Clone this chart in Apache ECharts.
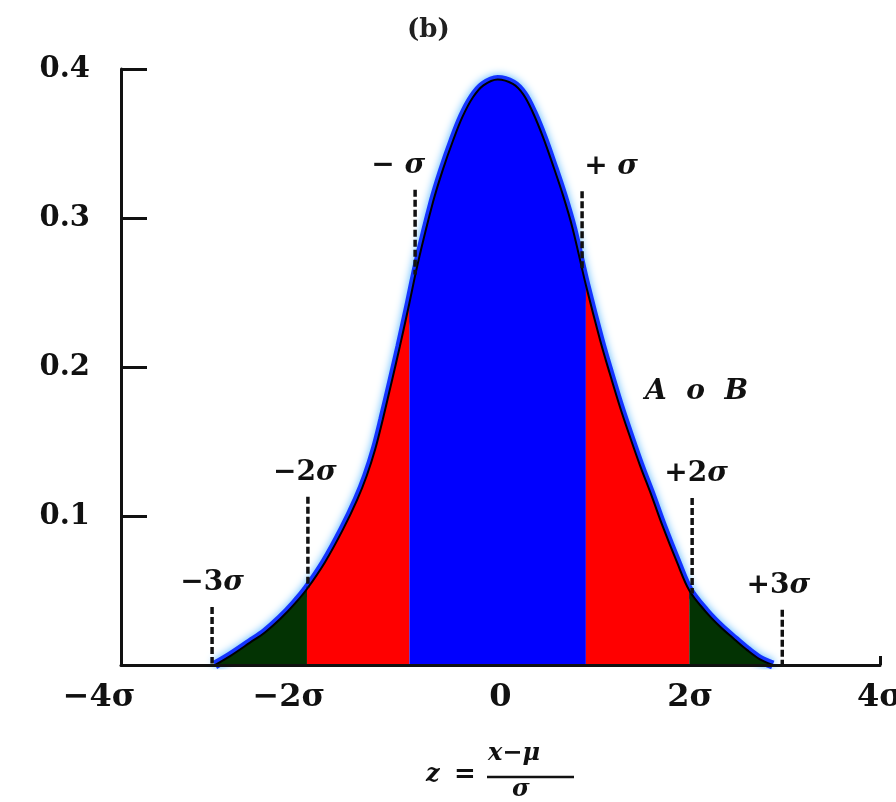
<!DOCTYPE html>
<html>
<head>
<meta charset="utf-8">
<title>Normal distribution (b)</title>
<script src="https://cdn.jsdelivr.net/npm/echarts@6/dist/echarts.min.js"></script>
<style>
  html, body { margin: 0; padding: 0; background: #ffffff; }
  #chart { width: 896px; height: 802px; }
</style>
</head>
<body>
<div id="chart"></div>
<script>
// Standardised variable z (in units of sigma) and the density of the bell curve
const zVals = [-3.01, -2.85, -2.64, -2.48, -2.32, -2.17, -2.04, -1.85, -1.66, -1.51,
               -1.41, -1.32, -1.24, -1.14, -1.06, -0.96, -0.87, -0.71, -0.61, -0.50,
               -0.40, -0.29, -0.18, -0.03, 0.13, 0.24, 0.34, 0.45, 0.55, 0.66,
               0.76, 0.90, 1.05, 1.15, 1.26, 1.36, 1.47, 1.59, 1.71, 1.86,
               1.99, 2.16, 2.31, 2.47, 2.60, 2.73, 2.87];
const density = [0.000, 0.006, 0.015, 0.022, 0.031, 0.041, 0.051, 0.069, 0.091, 0.111,
                 0.127, 0.145, 0.165, 0.192, 0.214, 0.243, 0.270, 0.311, 0.332, 0.352,
                 0.368, 0.381, 0.389, 0.393, 0.390, 0.383, 0.371, 0.354, 0.336, 0.315,
                 0.293, 0.255, 0.218, 0.196, 0.173, 0.154, 0.134, 0.114, 0.093, 0.069,
                 0.050, 0.036, 0.026, 0.017, 0.010, 0.004, 0.000];

// z values where the shaded bands change (±2σ and ±σ borders)
const bandEdges = [-2.04, -0.96, 0.90, 1.99];
const bandNames = ['outer', 'middle', 'inner', 'middle', 'outer'];

// Dashed sigma markers: position, upper end, lower end and caption
const markZ = [-3.04, -2.03, -0.90, 0.86, 2.02, 2.97];
const markTop = [0.039, 0.113, 0.319, 0.318, 0.112, 0.037];
const markBottom = [0.001, 0.052, 0.262, 0.266, 0.048, 0.000];
const markText = ['−3σ', '−2σ', '− σ', '+ σ', '+2σ', '+3σ'];

// Axis ticks and labels
const xTicks = [-4, -2, 0, 2, 4];
const xTickLabels = ['−4σ', '−2σ', '0', '2σ', '4σ'];
const yTicks = [0, 0.1, 0.2, 0.3, 0.4];
const yTickLabels = ['', '0.1', '0.2', '0.3', '0.4'];

const bandColor = { inner: '#0000ff', middle: '#ff0000', outer: '#033303' };
const FONT = 'DejaVu Serif';
const INK = '#111111';

const curve = zVals.map((z, i) => [z, density[i]]);
const SMOOTH = 0.35;

// cut the curve into the coloured bands
const cuts = [0].concat(bandEdges.map(e => zVals.indexOf(e)), [zVals.length - 1]);
const bandSeries = bandNames.map((name, k) => ({
  type: 'line',
  name: name,
  data: curve.slice(cuts[k], cuts[k + 1] + 1),
  smooth: SMOOTH,
  symbol: 'none',
  lineStyle: { width: 0, opacity: 0 },
  areaStyle: { color: bandColor[name], opacity: 1 },
  z: 3,
  silent: true
}));

function sigmaRich(txt) {
  return txt.split('σ').join('{s|σ}');
}

// caption offsets relative to the top of each dashed marker
const markLabelDx = [0, -3, -17, 29, 4, -4];

const markSeries = markZ.map((z, i) => ({
  type: 'line',
  data: [[z, markTop[i]], [z, markBottom[i]]],
  symbol: 'none',
  lineStyle: { color: INK, width: 3.5, type: [7, 3] },
  z: 6,
  silent: true
}));

const markLabelSeries = {
  type: 'scatter',
  symbolSize: 0,
  z: 7,
  silent: true,
  itemStyle: { opacity: 1 },
  data: markZ.map((z, i) => ({
    value: [z, markTop[i]],
    label: {
      show: true,
      position: 'top',
      distance: 10,
      offset: [markLabelDx[i], 0],
      formatter: sigmaRich(markText[i]),
      fontSize: 28,
      fontWeight: 'bold',
      fontFamily: FONT,
      color: INK,
      rich: { s: { fontSize: 28, color: INK, fontStyle: 'italic', fontWeight: 'bold', fontFamily: FONT } }
    }
  }))
};

const chart = echarts.init(document.getElementById('chart'), null, { renderer: 'canvas' });

chart.setOption({
  backgroundColor: '#ffffff',
  animation: false,
  grid: { left: 121, right: 16, top: 69, bottom: 137, containLabel: false, outerBoundsMode: 'none' },
  xAxis: {
    type: 'value',
    min: -4, max: 4, interval: 2,
    z: 10,
    axisLine: { show: true, onZero: false, lineStyle: { color: INK, width: 3 } },
    axisTick: { show: true, inside: true, length: 9, customValues: [4], lineStyle: { color: INK, width: 3 } },
    splitLine: { show: false },
    axisLabel: {
      margin: 17,
      customValues: xTicks,
      formatter: function (v) {
        const t = xTickLabels[xTicks.indexOf(v)];
        if (t === undefined) return '';
        return v < 0 ? '{n|' + t + '}' : '{p|' + t + '}';
      },
      rich: {
        n: { fontSize: 32, fontWeight: 'bold', fontFamily: FONT, color: INK, padding: [0, 44, 0, 0] },
        p: { fontSize: 32, fontWeight: 'bold', fontFamily: FONT, color: INK }
      }
    }
  },
  yAxis: {
    type: 'value',
    min: 0, max: 0.4, interval: 0.1,
    axisLine: { show: true, onZero: false, lineStyle: { color: INK, width: 3 } },
    axisTick: { show: true, inside: true, length: 26, lineStyle: { color: INK, width: 3 } },
    splitLine: { show: false },
    axisLabel: {
      margin: 31,
      fontSize: 29,
      fontWeight: 'bold',
      fontFamily: FONT,
      color: INK,
      formatter: function (v) {
        const i = yTicks.findIndex(t => Math.abs(t - v) < 1e-9);
        return i < 0 ? '' : yTickLabels[i];
      }
    }
  },
  graphic: [
    { type: 'text', left: 407, top: 17,
      style: { text: '(b)', font: 'bold 26px "DejaVu Serif"', fill: '#202020' } },
    { type: 'text', left: 645, top: 378,
      style: { text: 'A  o  B', font: 'italic bold 28px "DejaVu Serif"', fill: INK } },
    // axis title  z = (x − μ) / σ
    { type: 'text', left: 426, top: 763,
      style: { text: 'z', font: 'italic bold 24px "DejaVu Serif"', fill: INK } },
    { type: 'text', left: 454, top: 762,
      style: { text: '=', font: 'bold 26px "DejaVu Serif"', fill: INK } },
    { type: 'text', left: 488, top: 742,
      style: { text: 'x−μ', font: 'italic bold 24px "DejaVu Serif"', fill: INK } },
    { type: 'line', shape: { x1: 487, y1: 777, x2: 574, y2: 777 },
      style: { stroke: INK, lineWidth: 2.5 } },
    { type: 'text', left: 512, top: 778,
      style: { text: 'σ', font: 'italic bold 24px "DejaVu Serif"', fill: INK } }
  ],
  series: [
    // blue rim along the outside of the bell
    {
      type: 'line',
      data: curve,
      smooth: SMOOTH,
      symbol: 'none',
      lineStyle: { color: '#1433ff', width: 9, shadowBlur: 8, shadowColor: 'rgba(80,180,255,1)' },
      z: 1,
      silent: true
    }
  ].concat(bandSeries, [
    // the bell outline
    {
      type: 'line',
      data: curve,
      smooth: SMOOTH,
      symbol: 'none',
      lineStyle: { color: '#000000', width: 2 },
      z: 5,
      silent: true
    }
  ], markSeries, [markLabelSeries])
});
</script>
</body>
</html>
